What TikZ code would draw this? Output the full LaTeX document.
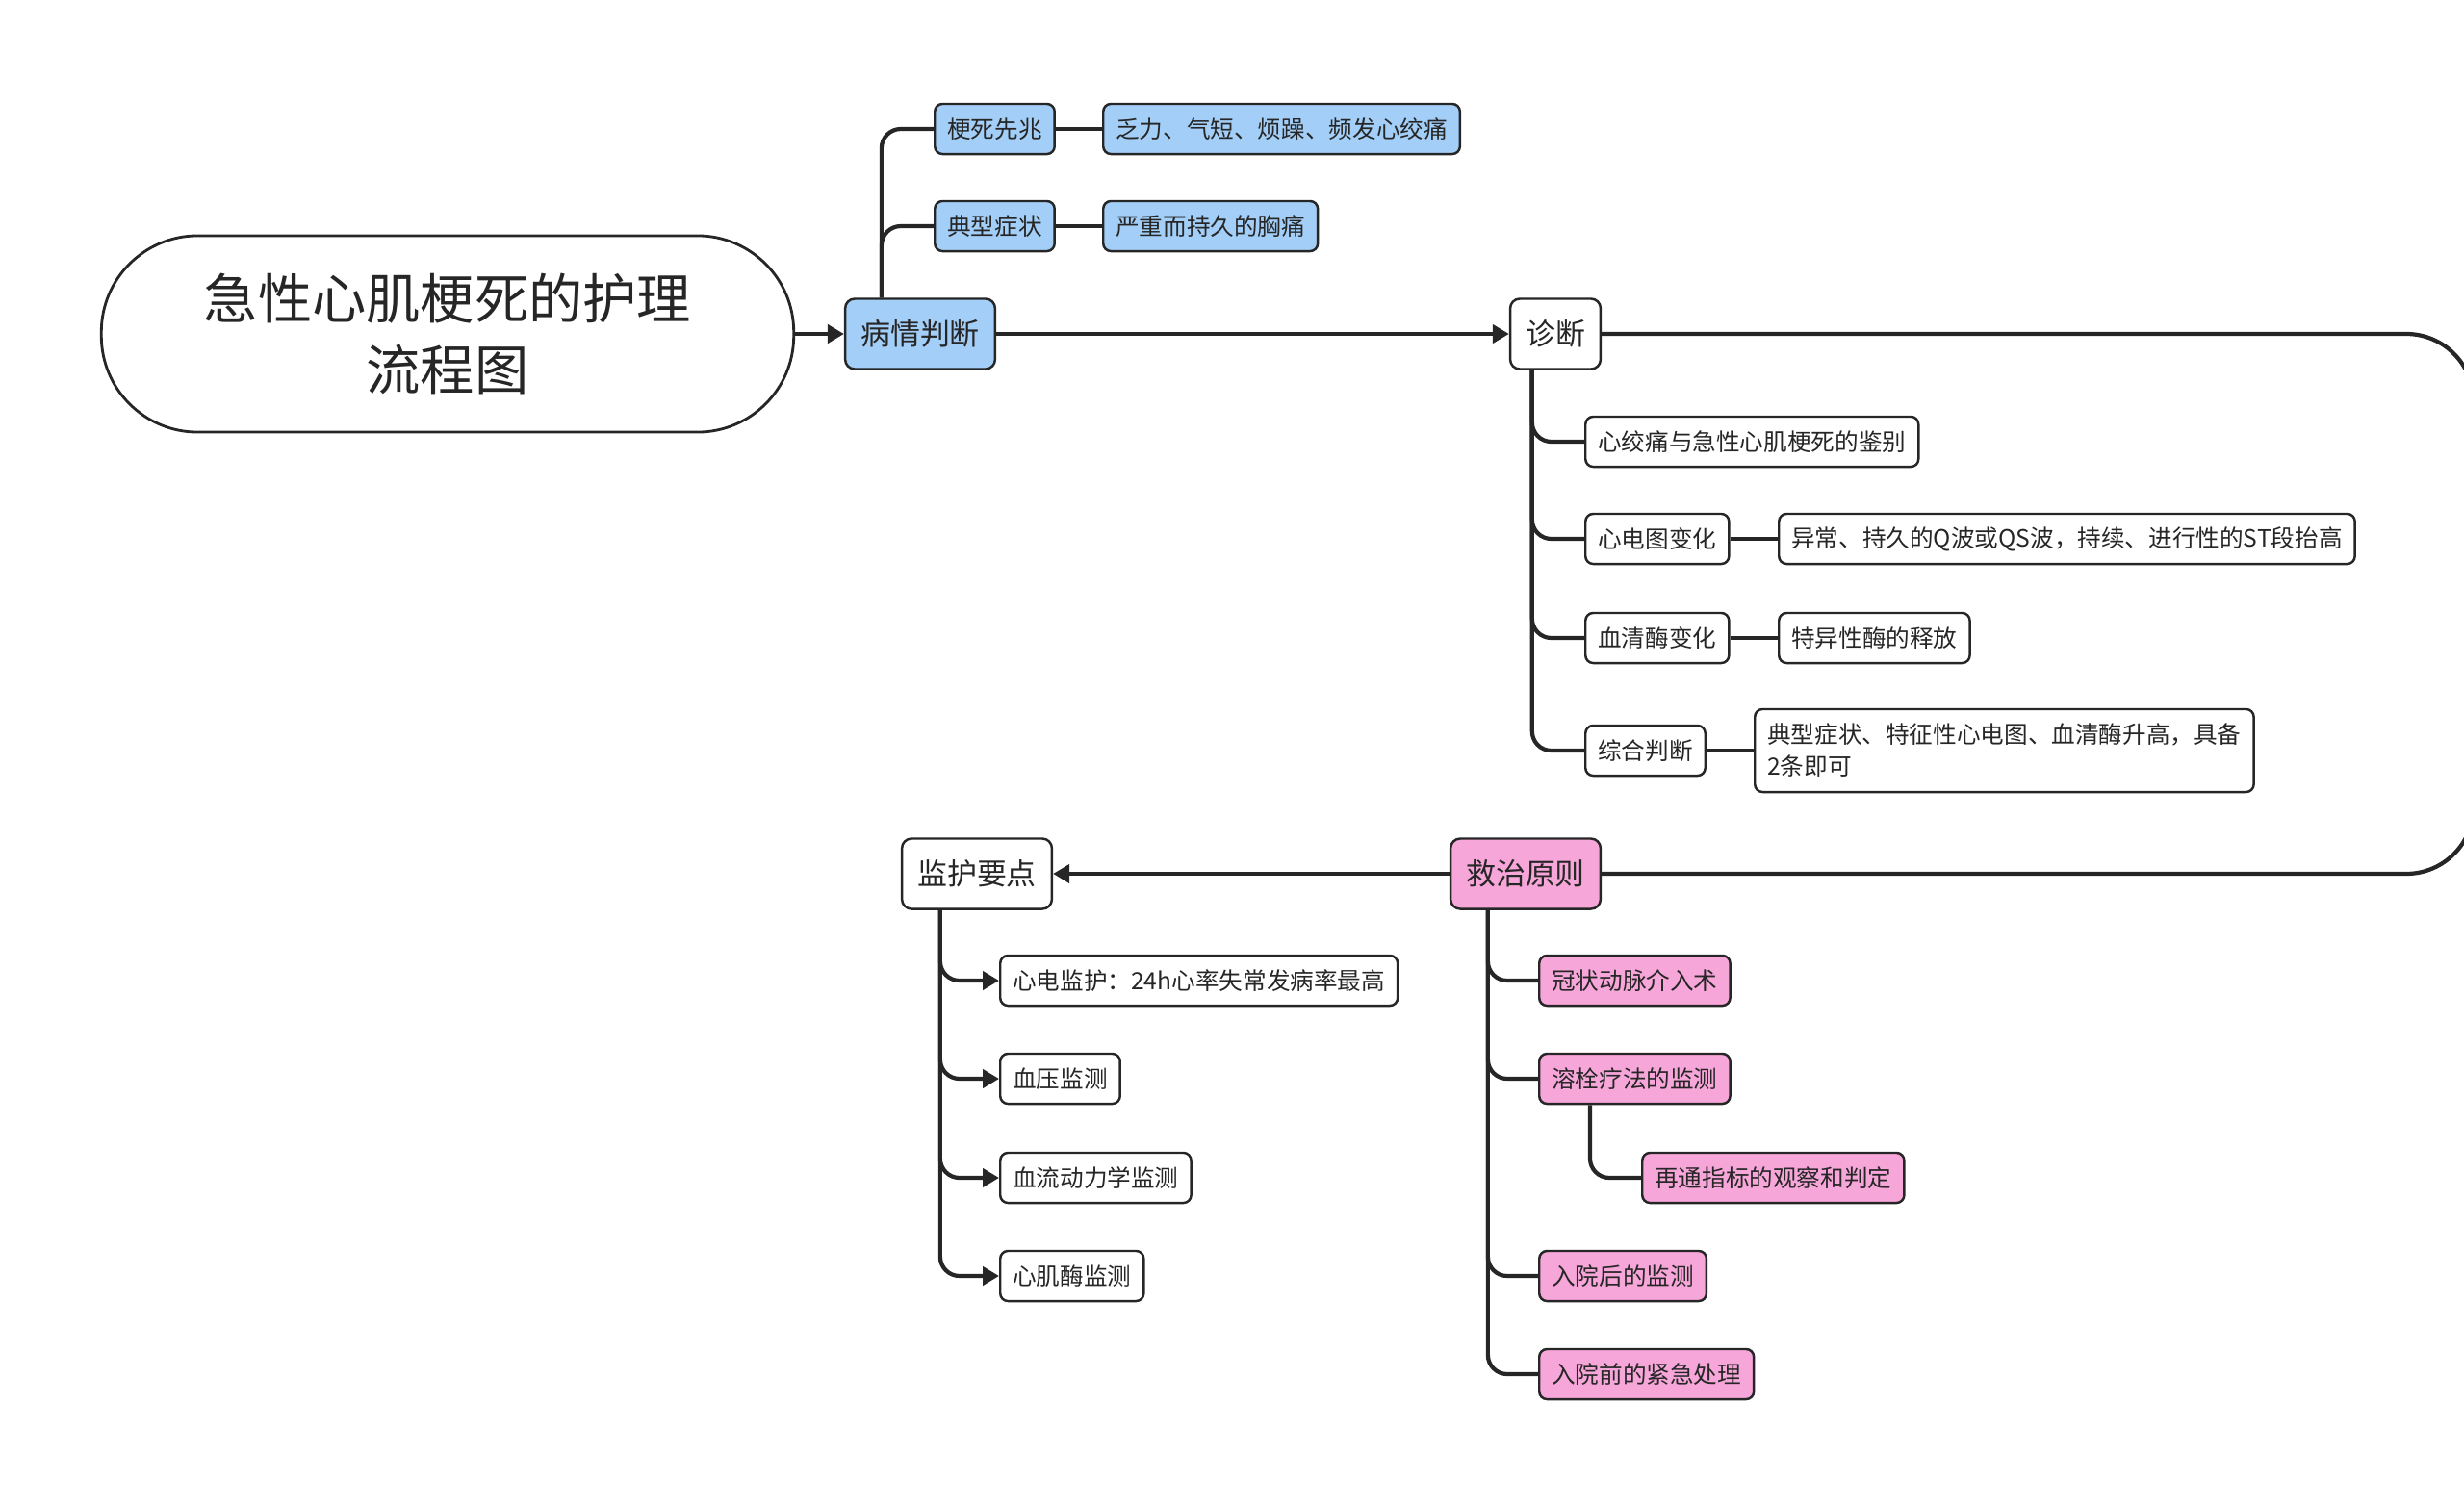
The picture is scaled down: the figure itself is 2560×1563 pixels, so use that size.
\documentclass[tikz,border=0pt]{standalone}
\usepackage{fontspec}
\setmainfont{Noto Sans CJK SC}
\usetikzlibrary{arrows.meta}
\definecolor{judgeblue}{HTML}{A3CEF7}
\definecolor{curepink}{HTML}{F7A6D9}
\definecolor{ink}{HTML}{262626}
\tikzset{
  box/.style={draw=ink, line width=0.7pt, rounded corners=0.08cm, text=ink, inner xsep=0.13cm,
    inner ysep=0pt, minimum height=0.52cm, font=\fontsize{7}{9.4}\selectfont, anchor=west},
  head/.style={draw=ink, line width=0.7pt, rounded corners=0.1cm, text=ink, inner xsep=0.16cm,
    minimum height=0.73cm, font=\fontsize{8.8}{10}\selectfont},
  bluebox/.style={fill=judgeblue},
  pinkbox/.style={fill=curepink},
  link/.style={draw=ink, line width=1.2pt, rounded corners=0.2cm},
  tip/.style={-{Triangle[length=0.17cm,width=0.19cm]}}
}
\begin{document}
\begin{tikzpicture}[x=0.01cm,y=-0.01cm]
  \useasboundingbox (0,0) rectangle (2560,1563);
  \clip (0,0) rectangle (2560,1563);
  \node[draw=ink, line width=0.8pt, rounded corners=1cm, minimum width=7.19cm, minimum height=2.04cm,
    align=center, text=ink, font=\fontsize{16}{21.3}\selectfont] (title) at (465,347)
    {急性心肌梗死的护理\\流程图};
  \node[head, bluebox] (judge) at (956,347) {病情判断};
  \node[box, bluebox] (omen) at (970,134) {梗死先兆};
  \node[box, bluebox] (omenT) at (1145,134) {乏力、气短、烦躁、频发心绞痛};
  \node[box, bluebox] (sympt) at (970,235) {典型症状};
  \node[box, bluebox] (symptT) at (1145,235) {严重而持久的胸痛};
  \node[head, fill=white] (diag) at (1616,347) {诊断};
  \node[box] (d1) at (1646,459) {心绞痛与急性心肌梗死的鉴别};
  \node[box] (d2) at (1646,560) {心电图变化};
  \node[box] (d2T) at (1847,560) {异常、持久的Q波或QS波，持续、进行性的ST段抬高};
  \node[box] (d3) at (1646,663) {血清酶变化};
  \node[box] (d3T) at (1847,663) {特异性酶的释放};
  \node[box] (d4) at (1646,780) {综合判断};
  \node[box, align=left, minimum height=0.86cm] (d4T) at (1822,780)
    {典型症状、特征性心电图、血清酶升高，具备\\2条即可};
  \node[head, pinkbox] (cure) at (1585,908) {救治原则};
  \node[box, pinkbox] (c1) at (1598,1019) {冠状动脉介入术};
  \node[box, pinkbox] (c2) at (1598,1121) {溶栓疗法的监测};
  \node[box, pinkbox] (c2T) at (1705,1224) {再通指标的观察和判定};
  \node[box, pinkbox] (c3) at (1598,1326) {入院后的监测};
  \node[box, pinkbox] (c4) at (1598,1428) {入院前的紧急处理};
  \node[head, fill=white] (watch) at (1015,908) {监护要点};
  \node[box] (w1) at (1038,1019) {心电监护：24h心率失常发病率最高};
  \node[box] (w2) at (1038,1121) {血压监测};
  \node[box] (w3) at (1038,1224) {血流动力学监测};
  \node[box] (w4) at (1038,1326) {心肌酶监测};
  \begin{scope}[link]
    \draw[tip] (title) -- (judge);
    \draw[tip] (judge) -- (diag);
    \draw[tip] (cure) -- (watch);
    \draw[rounded corners=0.7cm] (diag.east) -- (2570,347) -- (2570,908) -- (cure.east);
    \draw (judge.north west) ++(39,0) |- (omen.west);
    \draw (judge.north west) ++(39,0) |- (sympt.west);
    \draw (omen) -- (omenT);
    \draw (sympt) -- (symptT);
    \draw (diag.south west) ++(24,0) |- (d1.west);
    \draw (diag.south west) ++(24,0) |- (d2.west);
    \draw (diag.south west) ++(24,0) |- (d3.west);
    \draw (diag.south west) ++(24,0) |- (d4.west);
    \draw (d2) -- (d2T);
    \draw (d3) -- (d3T);
    \draw (d4) -- (d4T);
    \draw (cure.south west) ++(40,0) |- (c1.west);
    \draw (cure.south west) ++(40,0) |- (c2.west);
    \draw (cure.south west) ++(40,0) |- (c3.west);
    \draw (cure.south west) ++(40,0) |- (c4.west);
    \draw (c2.south west) ++(54,0) |- (c2T.west);
    \draw[tip] (watch.south west) ++(41,0) |- (w1.west);
    \draw[tip] (watch.south west) ++(41,0) |- (w2.west);
    \draw[tip] (watch.south west) ++(41,0) |- (w3.west);
    \draw[tip] (watch.south west) ++(41,0) |- (w4.west);
  \end{scope}
\end{tikzpicture}
\end{document}
